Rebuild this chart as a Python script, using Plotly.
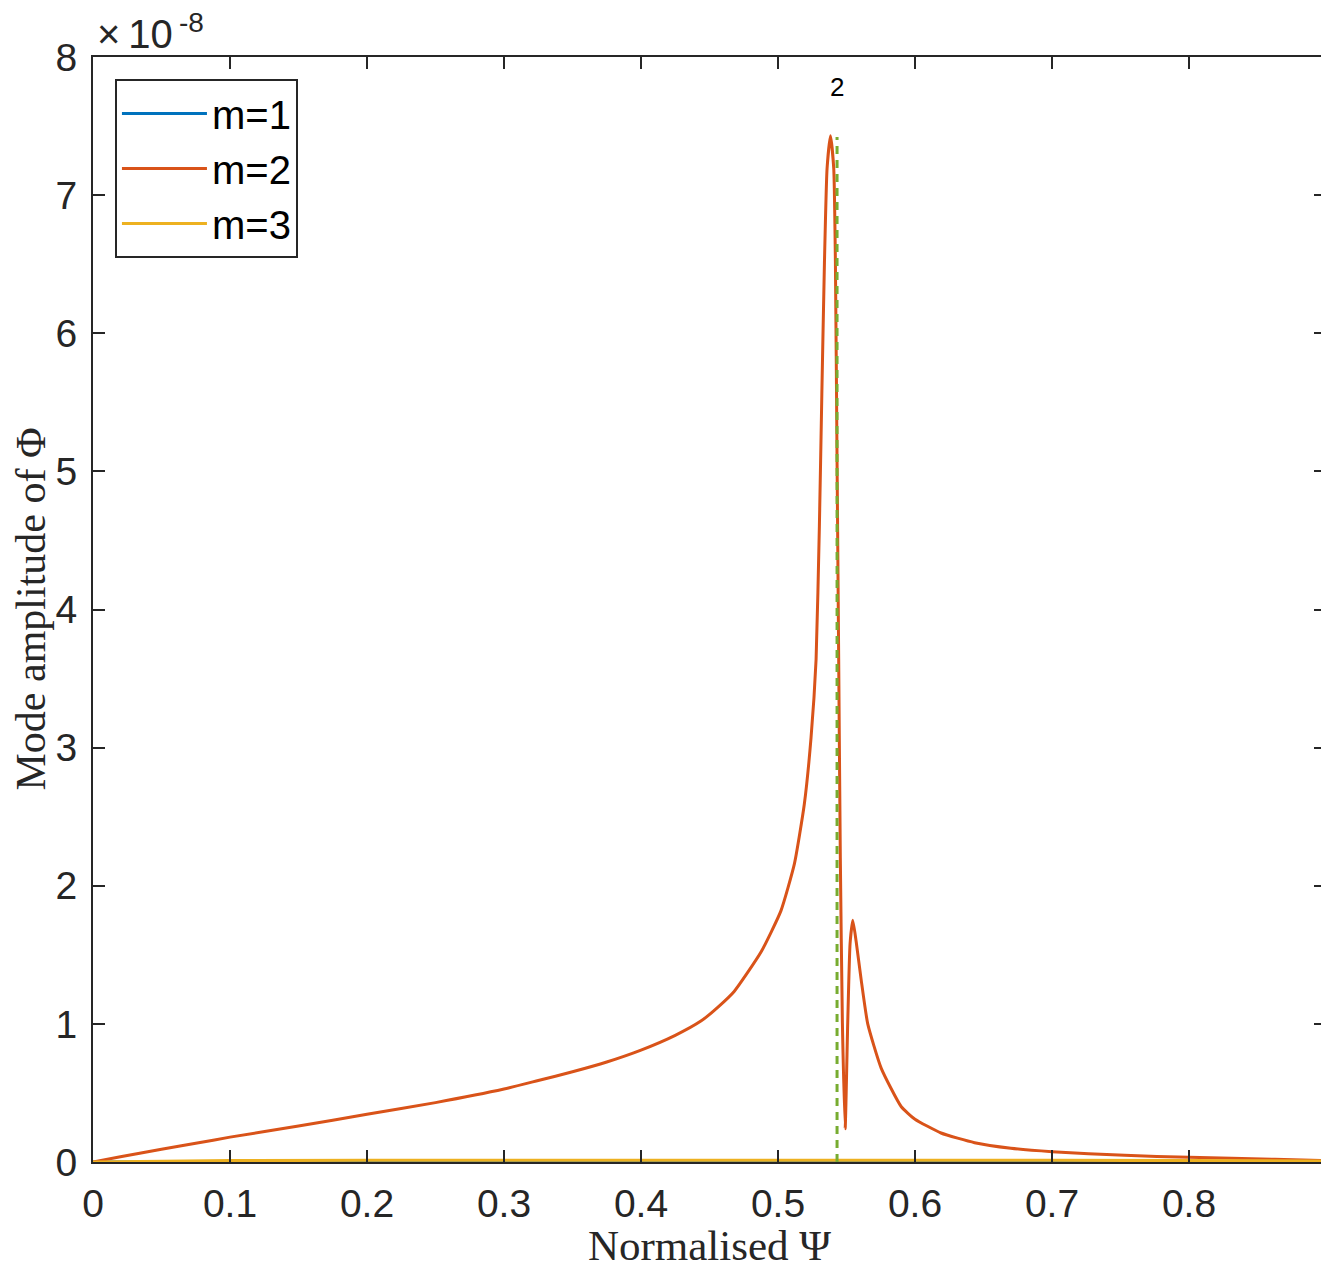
import plotly.graph_objects as go

# ---- data (amplitudes in units of 1e-8) ----
psi_m2 = [0.0, 0.02, 0.05, 0.075, 0.10, 0.15, 0.20, 0.25, 0.30, 0.325, 0.35, 0.375,
          0.40, 0.425, 0.4437, 0.456, 0.468, 0.4876, 0.5022, 0.5120, 0.5192, 0.5241,
          0.5278, 0.5302, 0.5320, 0.5339, 0.5358, 0.5383, 0.5407, 0.5419, 0.5431,
          0.5443, 0.5455, 0.5470, 0.5490, 0.5509, 0.5526, 0.5546, 0.5570, 0.5607,
          0.5655, 0.5753, 0.5900, 0.6000, 0.6190, 0.6435, 0.6700, 0.7000, 0.7530,
          0.8000, 0.8626, 0.9000]
amp_m2 = [0.0, 0.038, 0.092, 0.135, 0.18, 0.26, 0.346, 0.43, 0.528, 0.59, 0.653, 0.724,
          0.81, 0.917, 1.02, 1.12, 1.235, 1.52, 1.82, 2.16, 2.59, 3.07,
          3.64, 4.60, 5.56, 6.51, 7.19, 7.43, 7.19, 6.52, 5.08,
          3.64, 2.20, 1.01, 0.24, 1.01, 1.58, 1.75, 1.60, 1.32,
          1.00, 0.68, 0.40, 0.31, 0.21, 0.14, 0.10, 0.075, 0.048,
          0.034, 0.02, 0.01]

psi_small = [0.0, 0.1, 0.2, 0.3, 0.4, 0.5, 0.55, 0.6, 0.7, 0.8, 0.9]
amp_m1 = [0.0, 0.002, 0.003, 0.003, 0.004, 0.004, 0.006, 0.004, 0.003, 0.002, 0.001]
amp_m3 = [0.0, 0.010, 0.012, 0.012, 0.013, 0.014, 0.016, 0.014, 0.012, 0.010, 0.008]

psi_resonance = 0.5431
resonance_label = "2"
resonance_top = 7.42
label_height = 7.78

x_ticks = [0, 0.1, 0.2, 0.3, 0.4, 0.5, 0.6, 0.7, 0.8]
x_tick_text = ["0", "0.1", "0.2", "0.3", "0.4", "0.5", "0.6", "0.7", "0.8"]
y_ticks = [0, 1, 2, 3, 4, 5, 6, 7, 8]
y_tick_text = ["0", "1", "2", "3", "4", "5", "6", "7", "8"]
SCALE = 1e-8

def sc(v):
    return [a * SCALE for a in v]

AX = "#262626"
SANS = "Liberation Sans, Arial, Helvetica, sans-serif"
SERIF = "Liberation Serif, Times New Roman, serif"

fig = go.Figure()
fig.add_trace(go.Scatter(x=psi_small, y=sc(amp_m1), mode="lines", name="m=1", legendgroup="g1",
                         line=dict(color="#0072BD", width=3)))
fig.add_trace(go.Scatter(x=psi_m2, y=sc(amp_m2), mode="lines", name="m=2", legendgroup="g2",
                         line=dict(color="#D95319", width=3, shape="spline", smoothing=0.5)))
fig.add_trace(go.Scatter(x=psi_small, y=sc(amp_m3), mode="lines", name="m=3", legendgroup="g3",
                         line=dict(color="#EDB120", width=3)))
fig.add_trace(go.Scatter(x=[psi_resonance, psi_resonance], y=sc([0, resonance_top]),
                         mode="lines", showlegend=False,
                         line=dict(color="#77AC30", width=3, dash="8px,6px")))

fig.add_annotation(x=psi_resonance, y=label_height * SCALE, text=resonance_label,
                   showarrow=False, font=dict(family=SANS, size=26, color="black"))
# axis exponent label  "×10^-8"
fig.add_annotation(xref="paper", yref="paper", x=0, y=1, xanchor="left", yanchor="middle",
                   xshift=2, yshift=23, text="\u00d7\u200910",
                   showarrow=False, font=dict(family=SANS, size=40, color=AX))
fig.add_annotation(xref="paper", yref="paper", x=0, y=1, xanchor="left", yanchor="middle",
                   xshift=84, yshift=35, text="-8",
                   showarrow=False, font=dict(family=SANS, size=28, color=AX))
fig.add_annotation(xref="paper", yref="paper", x=0, y=0.5, xanchor="center", yanchor="middle",
                   xshift=-63, textangle=-90, text="Mode amplitude of \u03a6",
                   showarrow=False, font=dict(family=SERIF, size=42, color=AX))

axis_common = dict(showline=True, linecolor=AX, linewidth=2, mirror="ticks",
                   ticks="inside", ticklen=12, tickwidth=2, tickcolor=AX,
                   showgrid=False, zeroline=False,
                   tickfont=dict(family=SANS, size=39, color=AX))

fig.update_xaxes(range=[0, 0.9], tickvals=x_ticks, ticktext=x_tick_text,
                 title=dict(text="Normalised \u03a8", font=dict(family=SERIF, size=43, color=AX), standoff=9),
                 ticklabelstandoff=6, **axis_common)
fig.update_yaxes(range=[0, 8 * SCALE], tickvals=sc(y_ticks), ticktext=y_tick_text,
                 ticklabelstandoff=6, **axis_common)

fig.update_layout(
    width=1321, height=1261,
    margin=dict(l=85, r=3, t=49, b=107, autoexpand=False),
    paper_bgcolor="white", plot_bgcolor="white",
    showlegend=True,
    legend=dict(x=0.0178, y=0.980, xanchor="left", yanchor="top",
                bgcolor="white", bordercolor=AX, borderwidth=2,
                font=dict(family=SANS, size=40, color="black"),
                itemwidth=85, tracegroupgap=3, traceorder="normal"),
)

fig.write_html("out.html")
